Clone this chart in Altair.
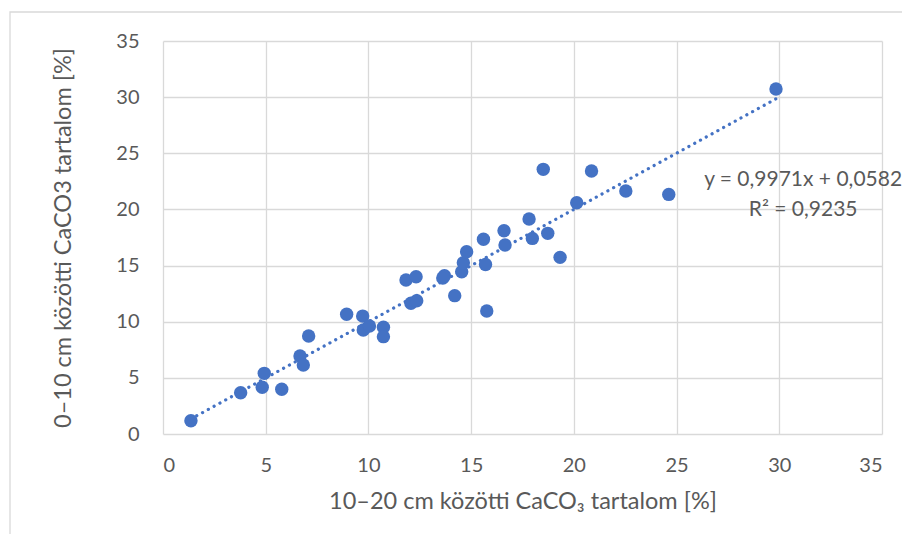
import altair as alt
import pandas as pd

x_vals = [1.36, 3.78, 4.93, 4.83, 5.78, 6.67, 6.83, 7.09,
          8.94, 9.72, 9.75, 10.05, 10.73, 10.73, 11.83, 12.32, 12.07, 12.35,
          13.62, 13.70, 14.20, 14.54, 14.62, 14.78, 15.70, 15.76,
          18.51, 20.86, 20.14, 17.82, 16.60, 15.60, 16.65, 17.98, 18.73, 19.33,
          29.84, 22.53, 24.62]
y_vals = [1.18, 3.68, 5.40, 4.16, 3.98, 6.95, 6.14, 8.73,
          10.66, 10.50, 9.26, 9.62, 9.50, 8.67, 13.71, 14.00, 11.64, 11.87,
          13.90, 14.10, 12.32, 14.45, 15.25, 16.23, 15.10, 10.95,
          23.57, 23.42, 20.60, 19.15, 18.10, 17.34, 16.83, 17.42, 17.87, 15.73,
          30.72, 21.64, 21.34]

eq_lines = ["y = 0,9971x + 0,0582", "R² = 0,9235"]
eq_x = [31.16, 31.16]
eq_y = [22.6, 19.95]

x_title = "10–20 cm közötti CaCO₃ tartalom [%]"
y_title = "0–10 cm közötti CaCO3 tartalom [%]"

df = pd.DataFrame({"x": x_vals, "y": y_vals})
eq = pd.DataFrame({"t": eq_lines, "x": eq_x, "y": eq_y})

FONT = "Lato"
BLUE = "#4472C4"
GRAY = "#595959"

xs = alt.Scale(domain=[0, 35], nice=False)
ys = alt.Scale(domain=[0, 35], nice=False)

xax = alt.Axis(values=list(range(0, 36, 5)), title=x_title, grid=True,
               gridColor="#d9d9d9", gridWidth=1.3, domain=False, ticks=False,
               labelFont=FONT, labelFontSize=20, labelColor=GRAY, labelPadding=21,
               titleFont=FONT, titleFontSize=23.5, titleColor=GRAY, titleFontWeight="normal",
               titlePadding=14)
yax = alt.Axis(values=list(range(0, 36, 5)), title=y_title, grid=True,
               gridColor="#d9d9d9", gridWidth=1.3, domain=False, ticks=False,
               labelFont=FONT, labelFontSize=20, labelColor=GRAY, labelPadding=24,
               titleFont=FONT, titleFontSize=23.5, titleColor=GRAY, titleFontWeight="normal",
               titlePadding=40)

base = alt.Chart(df)

points = base.mark_circle(size=180, opacity=1, color=BLUE).encode(
    x=alt.X("x:Q", scale=xs, axis=xax),
    y=alt.Y("y:Q", scale=ys, axis=yax),
)

trend = base.transform_regression("x", "y", method="linear").mark_line(
    color=BLUE, strokeWidth=3.2, strokeDash=[0.1, 6.5], strokeCap="round"
).encode(x=alt.X("x:Q", scale=xs), y=alt.Y("y:Q", scale=ys))

labels = alt.Chart(eq).mark_text(
    font=FONT, fontSize=21, color=GRAY, align="center", baseline="middle"
).encode(x=alt.X("x:Q", scale=xs), y=alt.Y("y:Q", scale=ys), text="t:N")

border = alt.Chart(pd.DataFrame({"a": [0]})).mark_rect(
    fill=None, stroke="#d9d9d9", strokeWidth=1.3
).encode(x=alt.value(-153), x2=alt.value(760), y=alt.value(-29), y2=alt.value(520))

chart = alt.layer(border, trend, points, labels).properties(
    width=719, height=393,
    autosize=alt.AutoSizeParams(type="none"),
    padding={"left": 155, "top": 33, "right": 20, "bottom": 100},
).configure_view(stroke=None)

chart.save("out.html", embed_options={"renderer": "svg", "actions": False})
